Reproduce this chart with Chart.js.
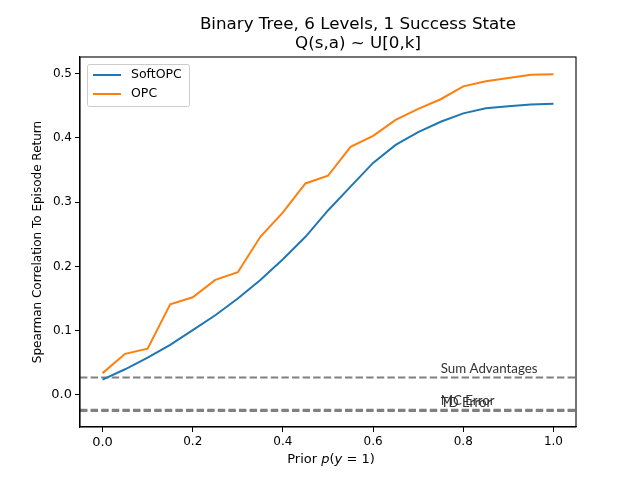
<!DOCTYPE html>
<html>
<head>
<meta charset="utf-8">
<script src="https://cdn.jsdelivr.net/npm/chart.js@4/dist/chart.umd.min.js"></script>
<style>
html,body{margin:0;padding:0;background:#fff;}
#wrap{width:640px;height:480px;position:relative;}
</style>
</head>
<body>
<div id="wrap"><canvas id="c" width="640" height="480"></canvas></div>
<script>
// ---- data ----
const priors = [0.0,0.05,0.1,0.15,0.2,0.25,0.3,0.35,0.4,0.45,0.5,0.55,0.6,0.65,0.7,0.75,0.8,0.85,0.9,0.95,1.0];
const softOPC = [0.024,0.040,0.058,0.078,0.101,0.124,0.150,0.179,0.211,0.246,0.287,0.324,0.361,0.389,0.409,0.425,0.438,0.446,0.449,0.452,0.453];
const opc = [0.034,0.064,0.072,0.141,0.152,0.179,0.191,0.246,0.284,0.329,0.341,0.386,0.403,0.428,0.445,0.460,0.480,0.488,0.493,0.498,0.499];
const seriesNames = ['SoftOPC','OPC'];
const baselineNames = ['Sum Advantages','MC Error','TD Error'];
const baselineValues = [0.027,-0.023,-0.025];
const xTicks = [0.0,0.2,0.4,0.6,0.8,1.0];
const xTickLabels = ['0.0','0.2','0.4','0.6','0.8','1.0'];
const yTicks = [0.0,0.1,0.2,0.3,0.4,0.5];
const yTickLabels = ['0.0','0.1','0.2','0.3','0.4','0.5'];
const titleLines = ['Binary Tree, 6 Levels, 1 Success State','Q(s,a) ~ U[0,k]'];
const xLabel = 'Prior p(y = 1)';
const yLabel = 'Spearman Correlation To Episode Return';
const xRange = [-0.05, 1.05];
const yRange = [-0.0498, 0.5257];
const baselineLabelX = 0.75;

const colors = ['#1f77b4','#ff7f0e'];
const FONT = '"DejaVu Sans", sans-serif';

const datasets = [];
[softOPC, opc].forEach((arr,i)=>{
  datasets.push({
    label: seriesNames[i],
    data: priors.map((p,j)=>({x:p,y:arr[j]})),
    borderColor: colors[i], backgroundColor: colors[i],
    borderWidth: 2, pointRadius: 0, tension: 0, fill:false
  });
});
baselineValues.forEach((v,i)=>{
  datasets.push({
    label: baselineNames[i],
    isBaseline: true,
    data: [{x:xRange[0],y:v},{x:xRange[1],y:v}],
    borderColor: '#808080', borderWidth: 2, borderDash:[7.4,3.2],
    pointRadius:0, fill:false
  });
});

const decor = {
  id:'decor',
  afterDraw(chart){
    const ctx = chart.ctx, a = chart.chartArea;
    const xs = chart.scales.x, ys = chart.scales.y;
    ctx.save();
    // frame
    ctx.strokeStyle='#000'; ctx.lineWidth=1.1;
    ctx.strokeRect(a.left, a.top, a.right-a.left, a.bottom-a.top);
    // baseline labels
    ctx.fillStyle='#333'; ctx.font='13.3px Lato, sans-serif';
    ctx.textAlign='left'; ctx.textBaseline='bottom';
    chart.data.datasets.forEach(ds=>{
      if(!ds.isBaseline) return;
      ctx.fillText(ds.label, xs.getPixelForValue(baselineLabelX), ys.getPixelForValue(ds.data[0].y)-2);
    });
    // title
    ctx.fillStyle='#000'; ctx.textAlign='center'; ctx.textBaseline='middle';
    ctx.font='16.7px '+FONT;
    ctx.fillText(titleLines[0], 358, 25);
    ctx.fillText(titleLines[1], 358, 44);
    // x label with italic parts
    const parts = [['Prior ',false],['p',true],['(',false],['y',true],[' = 1)',false]];
    let total=0;
    parts.forEach(p=>{ctx.font=(p[1]?'italic ':'')+'13px '+FONT; total+=ctx.measureText(p[0]).width;});
    let x = (a.left+a.right)/2 - total/2 + 3;
    ctx.textAlign='left';
    parts.forEach(p=>{ctx.font=(p[1]?'italic ':'')+'13px '+FONT; ctx.fillText(p[0], x, 460); x+=ctx.measureText(p[0]).width;});
    // y label
    ctx.save();
    ctx.translate(38,(a.top+a.bottom)/2);
    ctx.rotate(-Math.PI/2);
    ctx.textAlign='center'; ctx.font='12px '+FONT;
    ctx.fillText(yLabel,0,0);
    ctx.restore();
    // legend
    const lx=87.5, ly=64.5, lw=102, lh=42;
    ctx.fillStyle='rgba(255,255,255,0.8)'; ctx.strokeStyle='#cccccc'; ctx.lineWidth=1;
    ctx.beginPath(); ctx.roundRect(lx,ly,lw,lh,2); ctx.fill(); ctx.stroke();
    const items = chart.data.datasets.filter(d=>seriesNames.includes(d.label));
    items.forEach((d,i)=>{
      const yy = 75 + i*19;
      ctx.strokeStyle=d.borderColor; ctx.lineWidth=2;
      ctx.beginPath(); ctx.moveTo(93,yy); ctx.lineTo(121,yy); ctx.stroke();
      ctx.fillStyle='#000'; ctx.font='12.5px '+FONT; ctx.textAlign='left'; ctx.textBaseline='middle';
      ctx.fillText(d.label,131,yy);
    });
    ctx.restore();
  }
};

new Chart(document.getElementById('c'),{
  type:'line',
  data:{datasets},
  options:{
    responsive:false, animation:false, devicePixelRatio:1,
    layout:{padding:{top:57,right:64,left:0,bottom:0}},
    plugins:{legend:{display:false},title:{display:false},tooltip:{enabled:false}},
    scales:{
      x:{type:'linear',min:xRange[0],max:xRange[1],
        afterBuildTicks(s){s.ticks=xTicks.map(v=>({value:v}));},
        afterFit(s){s.height=53;},
        grid:{drawOnChartArea:false,drawTicks:true,tickLength:5,color:'#000'},
        border:{display:true,color:'#000',width:1.1},
        ticks:{color:'#000',padding:3,maxRotation:0,autoSkip:false,
          font:(c)=>({family:FONT,size:(c.tick && c.tick.value===0)?13:12}),
          callback:(v,i)=>xTickLabels[i]}
      },
      y:{type:'linear',min:yRange[0],max:yRange[1],
        afterBuildTicks(s){s.ticks=yTicks.map(v=>({value:v}));},
        afterFit(s){s.width=80;},
        grid:{drawOnChartArea:false,drawTicks:true,tickLength:5,color:'#000'},
        border:{display:true,color:'#000',width:1.1},
        ticks:{color:'#000',padding:3,autoSkip:false,
          font:(c)=>({family:FONT,size:(c.tick && c.tick.value===0)?13:12}),
          callback:(v,i)=>yTickLabels[i]}
      }
    }
  },
  plugins:[decor]
});
</script>
</body>
</html>
